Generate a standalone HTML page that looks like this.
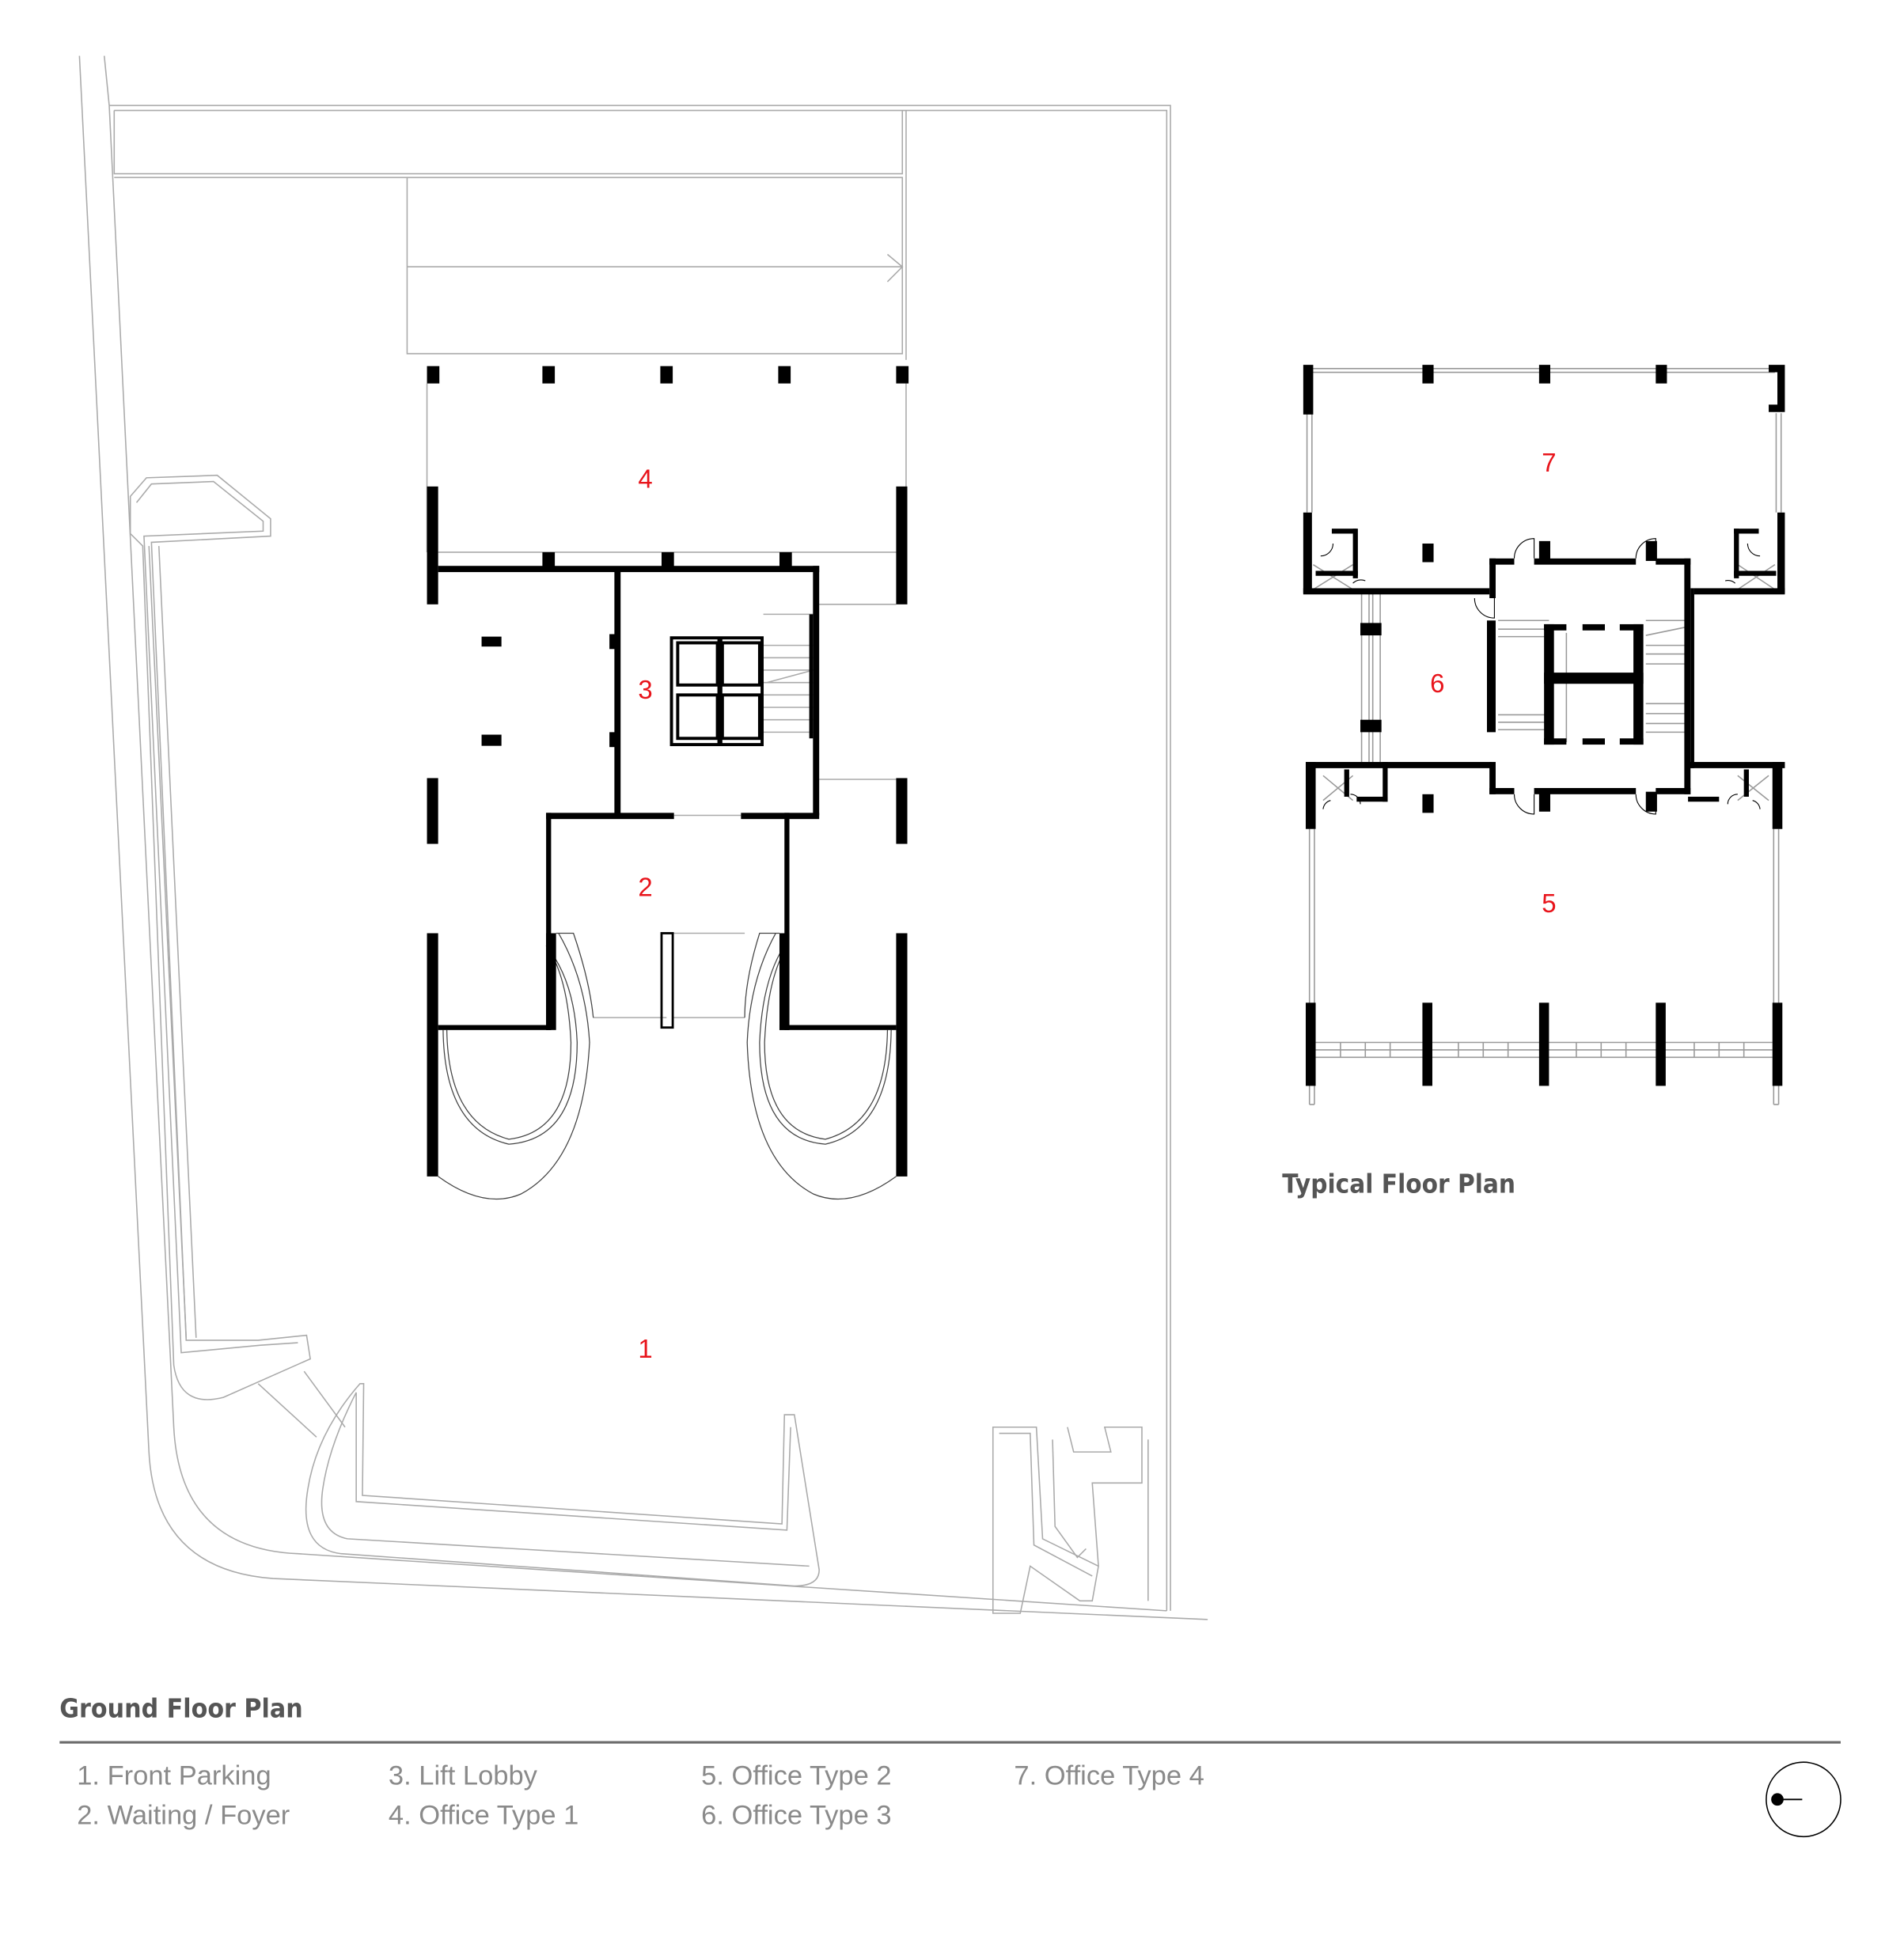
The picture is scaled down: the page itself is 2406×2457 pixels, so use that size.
<!DOCTYPE html>
<html><head><meta charset="utf-8"><style>
html,body{margin:0;padding:0;background:#fff;}
svg{display:block}
</style></head><body>
<svg width="2406" height="2457" viewBox="0 0 1534 1566.5" preserveAspectRatio="none" xmlns="http://www.w3.org/2000/svg">
<rect width="1534" height="1567" fill="#fff"/>
<g fill="none" stroke="#aaa" stroke-width="1">
<path d="M64,45 L120,1170 Q125,1265 220,1272 L973,1305"/>
<path d="M84,45 L88,85"/>
<path d="M88,85 L943,85 L943,1298"/>
<path d="M92,89 L940,89 L940,1298"/>
<path d="M88,85 L140,1150 Q145,1248 240,1252 L940,1298"/>
<path d="M92,89 L92,140 L727,140 L727,89"/>
<path d="M730,89 L730,290"/>
<path d="M92,143 L727,143"/>
<rect x="328" y="143" width="399" height="142"/>
<path d="M328,215 L727,215 M715,205 L727,215 L715,227"/>
<path d="M105,400 L118,385 L175,383 L218,418 L218,432 L122,437 L150,1080 L208,1080 L247,1076 L250,1095 L180,1126 Q145,1135 140,1100 L115,440 L105,430 Z"/>
<path d="M110,405 L122,390 L172,388 L212,420 L212,428 L116,432 L146,1090 L210,1084 L240,1082"/>
<path d="M120,440 L150,1078 M128,440 L158,1078"/>
<path d="M208,1115 L255,1158 M245,1105 L278,1150"/>
<path d="M293,1115 L292,1205 L630,1228 L632,1140 L640,1140 L660,1265 Q660,1278 640,1278 L275,1252 Q240,1248 248,1200 Q255,1155 290,1115 Z"/>
<path d="M287,1122 L287,1210 L634,1233 L637,1150 M652,1262 L280,1240 Q255,1235 260,1200 Q265,1165 287,1122"/>
<path d="M800,1150 L835,1150 L840,1240 L885,1262 L880,1290 L870,1290 L830,1262 L822,1300 L800,1300 Z"/>
<path d="M805,1155 L830,1155 L833,1245 L880,1270 M860,1150 L865,1170 L895,1170 L890,1150 L920,1150 L920,1195 L880,1195 L885,1262 M848,1160 L850,1230 L868,1255 L875,1248"/>
<path d="M925,1160 L925,1290"/>
<path d="M344,309 L344,445 M730,309 L730,445 M353,445 L722,445 M660,487 L722,487 M660,628 L722,628"/>
<path d="M543,657 L597,657 M478,820 L537,820 M542,820 L600,820 M542,752 L600,752"/>
<path d="M615,495 L655,495 M615,520 L655,520 M615,530 L655,530 M615,540 L655,540 M615,550 L655,550 M615,560 L655,560 M615,570 L655,570 M615,580 L655,580 M615,590 L655,590 M618,550 L655,540"/>
</g>
<g fill="none" stroke="#444" stroke-width="0.8">
<path d="M353,948 Q390,975 420,962 Q470,935 475,840 Q472,790 450,752"/>
<path d="M357,830 Q358,910 410,922 Q465,918 465,840 Q463,790 440,762"/>
<path d="M360,830 Q361,905 410,918 Q460,912 460,840 Q458,795 445,770"/>
<path d="M722,948 Q685,975 655,962 Q605,935 602,840 Q604,790 625,752"/>
<path d="M718,830 Q717,910 665,922 Q612,918 612,840 Q614,790 632,762"/>
<path d="M715,830 Q714,905 665,918 Q616,912 616,840 Q618,795 630,770"/>
<path d="M448,752 L462,752 Q475,790 478,820 M628,752 L612,752 Q600,790 600,820"/>
</g>
<g fill="#000">
<rect x="344" y="295" width="10" height="14"/><rect x="437" y="295" width="10" height="14"/><rect x="532" y="295" width="10" height="14"/><rect x="627" y="295" width="10" height="14"/><rect x="722" y="295" width="10" height="14"/>
<rect x="437" y="445" width="10" height="12"/><rect x="533" y="445" width="10" height="12"/><rect x="628" y="445" width="10" height="12"/>
<rect x="344" y="392" width="9" height="95"/><rect x="722" y="392" width="9" height="95"/>
<rect x="344" y="627" width="9" height="53"/><rect x="722" y="627" width="9" height="53"/>
<rect x="344" y="752" width="9" height="196"/><rect x="722" y="752" width="9" height="196"/>
<rect x="353" y="456" width="307" height="5"/>
<rect x="495" y="458" width="5" height="199"/>
<rect x="655" y="456" width="5" height="201"/>
<rect x="440" y="655" width="103" height="5"/><rect x="597" y="655" width="63" height="5"/>
<rect x="440" y="655" width="4" height="175"/><rect x="632" y="655" width="4" height="175"/>
<rect x="440" y="752" width="8" height="78"/><rect x="628" y="752" width="8" height="78"/>
<rect x="353" y="826" width="91" height="4"/><rect x="628" y="826" width="94" height="4"/>
<rect x="388" y="513" width="16" height="8"/><rect x="388" y="592" width="16" height="9"/>
<rect x="491" y="511" width="6" height="12"/><rect x="491" y="590" width="6" height="12"/>
<rect x="652" y="495" width="3" height="100"/>
</g>
<g fill="none" stroke="#000" stroke-width="2.5">
<rect x="541" y="514" width="73" height="86"/>
<rect x="546" y="518" width="32" height="34"/><rect x="582" y="518" width="30" height="34"/>
<rect x="546" y="560" width="32" height="35"/><rect x="582" y="560" width="30" height="35"/>
<rect x="533" y="752" width="9" height="76" stroke-width="1.8"/>
</g>
<rect x="578" y="514" width="4" height="86" fill="#000"/>

<g fill="none" stroke="#999" stroke-width="1">
<path d="M1056,297 L1430,297 M1056,300 L1430,300"/>
<path d="M1053,333 L1053,413 M1057,333 L1057,413 M1431,333 L1431,413 M1435,333 L1435,413"/>
<path d="M1097,478 L1097,614 M1103,478 L1103,614 M1106,478 L1106,614 M1112,478 L1112,614"/>
<path d="M1055,668 L1055,890 M1059,668 L1059,890 M1429,668 L1429,890 M1433,668 L1433,890 M1055,890 L1059,890 M1429,890 L1433,890"/>
<path d="M1060,840 L1428,840 M1060,852 L1428,852 M1060,846 L1428,846"/>
<path d="M1080,840 L1080,852 M1100,840 L1100,852 M1120,840 L1120,852 M1175,840 L1175,852 M1195,840 L1195,852 M1215,840 L1215,852 M1270,840 L1270,852 M1290,840 L1290,852 M1310,840 L1310,852 M1365,840 L1365,852 M1385,840 L1385,852 M1405,840 L1405,852"/>
<path d="M1207,500 L1248,500 M1207,507 L1248,507 M1207,513 L1248,513 M1207,576 L1248,576 M1207,582 L1248,582 M1207,588 L1248,588 M1326,500 L1360,500 M1326,520 L1360,520 M1326,527 L1360,527 M1326,535 L1360,535 M1326,567 L1360,567 M1326,575 L1360,575 M1326,583 L1360,583 M1326,590 L1360,590 M1326,512 L1360,505"/>
<path d="M1262,510 L1262,598"/>
<path d="M1058,455 L1090,475 M1058,475 L1090,455 M1400,455 L1430,475 M1400,475 L1430,455 M1066,625 L1090,645 M1066,645 L1090,625 M1400,625 L1425,645 M1400,645 L1425,625"/>
</g>
<g fill="none" stroke="#000" stroke-width="0.7">
<path d="M1220,450 A16,16 0 0 1 1236,434 L1236,450 M1318,450 A16,16 0 0 1 1334,434 L1334,450 M1220,640 A16,16 0 0 0 1236,656 L1236,640 M1318,640 A16,16 0 0 0 1334,656 L1334,640 M1188,482 A16,16 0 0 0 1204,498 L1204,482 M1064,448 A10,10 0 0 0 1074,438 M1418,448 A10,10 0 0 1 1408,438 M1090,470 A9,9 0 0 1 1100,468 M1390,468 A9,9 0 0 1 1398,470 M1066,652 A8,8 0 0 1 1072,645 M1418,652 A8,8 0 0 0 1412,645 M1088,640 A8,8 0 0 1 1096,648 M1400,640 A8,8 0 0 0 1392,648"/>
</g>
<g fill="#000">
<rect x="1050" y="294" width="8" height="40"/><rect x="1146" y="294" width="9" height="15"/><rect x="1240" y="294" width="9" height="15"/><rect x="1334" y="294" width="9" height="15"/>
<path d="M1425,294 L1438,294 L1438,332 L1425,332 L1425,326 L1432,326 L1432,300 L1425,300 Z"/>
<rect x="1050" y="413" width="7" height="65"/><rect x="1432" y="413" width="6" height="65"/>
<rect x="1050" y="474" width="150" height="5"/><rect x="1365" y="474" width="73" height="5"/>
<rect x="1073" y="426" width="20" height="4"/><rect x="1090" y="426" width="4" height="40"/><rect x="1060" y="460" width="34" height="4"/>
<rect x="1397" y="426" width="20" height="4"/><rect x="1397" y="426" width="4" height="40"/><rect x="1397" y="460" width="34" height="4"/>
<rect x="1146" y="438" width="9" height="15"/>
<rect x="1200" y="450" width="20" height="5"/><rect x="1236" y="450" width="82" height="5"/><rect x="1334" y="450" width="28" height="5"/>
<rect x="1200" y="450" width="5" height="32"/><rect x="1240" y="436" width="9" height="16"/><rect x="1326" y="436" width="9" height="16"/>
<rect x="1357" y="450" width="5" height="190"/><rect x="1362" y="474" width="3" height="145"/>
<rect x="1198" y="500" width="7" height="90"/>
<rect x="1244" y="503" width="8" height="97"/><rect x="1316" y="503" width="8" height="97"/><rect x="1244" y="542" width="80" height="9"/>
<rect x="1244" y="503" width="18" height="5"/><rect x="1305" y="503" width="19" height="5"/><rect x="1275" y="503" width="18" height="5"/>
<rect x="1244" y="595" width="18" height="5"/><rect x="1305" y="595" width="19" height="5"/><rect x="1275" y="595" width="18" height="5"/>
<rect x="1096" y="502" width="17" height="10"/><rect x="1096" y="580" width="17" height="10"/>
<rect x="1052" y="614" width="150" height="5"/><rect x="1360" y="614" width="78" height="5"/>
<rect x="1200" y="614" width="5" height="26"/><rect x="1200" y="635" width="20" height="5"/><rect x="1236" y="635" width="82" height="5"/><rect x="1334" y="635" width="28" height="5"/>
<rect x="1240" y="638" width="9" height="16"/><rect x="1326" y="638" width="9" height="16"/><rect x="1146" y="640" width="9" height="15"/>
<rect x="1052" y="614" width="8" height="54"/><rect x="1428" y="614" width="8" height="54"/>
<rect x="1114" y="614" width="4" height="32"/><rect x="1093" y="642" width="25" height="4"/><rect x="1083" y="620" width="4" height="22"/>
<rect x="1360" y="642" width="25" height="4"/><rect x="1405" y="620" width="4" height="22"/>
<rect x="1052" y="808" width="8" height="67"/><rect x="1146" y="808" width="8" height="67"/><rect x="1240" y="808" width="8" height="67"/><rect x="1334" y="808" width="8" height="67"/><rect x="1428" y="808" width="8" height="67"/>
</g>

<g font-family="'Liberation Sans', sans-serif" font-size="21" fill="#e8141b" text-anchor="middle">
<text x="520" y="393">4</text><text x="520" y="563">3</text><text x="520" y="722">2</text><text x="520" y="1094">1</text>
<text x="1248" y="380">7</text><text x="1158" y="558">6</text><text x="1248" y="735">5</text>
</g>
<g font-family="'DejaVu Sans', 'Liberation Sans', sans-serif" font-weight="bold" font-size="21" fill="#555">
<text x="1033" y="961" textLength="188" lengthAdjust="spacingAndGlyphs">Typical Floor Plan</text>
<text x="48" y="1384" textLength="196" lengthAdjust="spacingAndGlyphs">Ground Floor Plan</text>
</g>
<rect x="48" y="1403" width="1435" height="2" fill="#6a6a6a"/>
<g font-family="'Liberation Sans', sans-serif" font-size="22" fill="#8a8a8a">
<text x="62" y="1438">1. Front Parking</text><text x="62" y="1470">2. Waiting / Foyer</text>
<text x="313" y="1438">3. Lift Lobby</text><text x="313" y="1470">4. Office Type 1</text>
<text x="565" y="1438">5. Office Type 2</text><text x="565" y="1470">6. Office Type 3</text>
<text x="817" y="1438">7. Office Type 4</text>
</g>
<circle cx="1453" cy="1450" r="30" fill="none" stroke="#000" stroke-width="1"/>
<circle cx="1432" cy="1450" r="5" fill="#000"/>
<line x1="1432" y1="1450" x2="1452" y2="1450" stroke="#000" stroke-width="1.2"/>
</svg>
</body></html>
